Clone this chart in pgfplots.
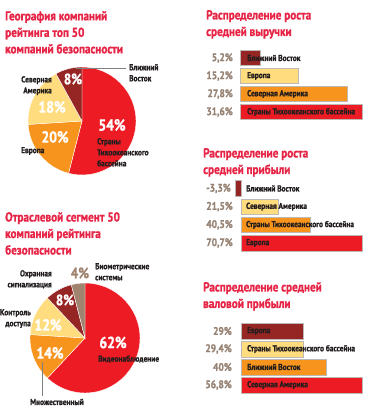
\documentclass[border=0pt]{standalone}
\usepackage{pgfplots}
\pgfplotsset{compat=1.18}
\usepackage{fontspec}
\setmainfont{PT Sans}[FakeStretch=0.86, BoldFont={PT Sans Bold}, BoldFeatures={FakeStretch=0.86, FakeBold=1.2}]
\definecolor{cRed}{RGB}{237,28,36}
\definecolor{cOrange}{RGB}{247,148,29}
\definecolor{cYellow}{RGB}{255,220,125}
\definecolor{cDark}{RGB}{150,38,36}
\definecolor{cTan}{RGB}{160,132,112}
\definecolor{cTitle}{RGB}{230,36,70}
\definecolor{cVal}{RGB}{150,130,115}
\definecolor{cTxt}{RGB}{35,30,30}
\definecolor{cEdge}{RGB}{190,185,180}
\tikzset{
  ttl/.style={anchor=north west, inner sep=0pt, align=left, text=cTitle, font=\bfseries\fontsize{13}{16.5}\selectfont},
  lab/.style={inner sep=0pt, text=cTxt, font=\bfseries\fontsize{8.6}{11}\selectfont},
  val/.style={inner sep=0pt, text=cVal, font=\bfseries\fontsize{11}{12}\selectfont, anchor=east},
  pct/.style={inner sep=0pt, text=white, font=\bfseries\fontsize{16}{16}\selectfont},
}
\pgfplotsset{
  hbar/.style={xbar, bar shift=0pt, draw=cEdge, line width=0.5pt},
  barax/.style={anchor=south west, scale only axis, hide axis, clip=false, ymin=-0.5, ymax=3.5},
  pieax/.style={anchor=center, scale only axis, hide axis, clip=false, xmin=-1, xmax=1, ymin=-1, ymax=1},
}
\begin{document}
\begin{tikzpicture}
\path[use as bounding box] (0pt,0pt) rectangle (374pt,-420pt);

% ---------- Pie 1 ----------
\node[ttl] at (5pt,-11pt) {География компаний\\рейтинга топ 50\\компаний безопасности};
\begin{axis}[pieax, at={(82pt,-121pt)}, width=108pt, height=108pt]
\fill[cRed, draw=white, line width=0.4pt] (axis cs:0,0) -- ++(90:54pt) arc[start angle=90, end angle={90-3.6*54}, radius=54pt] -- cycle;
\fill[cOrange, draw=white, line width=0.4pt] (axis cs:0,0) -- ++({90-3.6*54}:54pt) arc[start angle={90-3.6*54}, end angle={90-3.6*(54+20)}, radius=54pt] -- cycle;
\fill[cYellow, draw=white, line width=0.4pt] (axis cs:0,0) -- ++({90-3.6*74}:54pt) arc[start angle={90-3.6*74}, end angle={90-3.6*(74+18)}, radius=54pt] -- cycle;
\fill[cDark, draw=white, line width=0.4pt] (axis cs:0,0) -- ++({90-3.6*92}:54pt) arc[start angle={90-3.6*92}, end angle={90-3.6*(92+8)}, radius=54pt] -- cycle;
\end{axis}
\draw[gray, line width=0.6pt] (76pt,-68pt) -- (126pt,-68pt);
\node[lab, anchor=north west, align=left] at (129pt,-64pt) {Ближний\\Восток};
\node[lab, anchor=north east, align=right] at (52pt,-76pt) {Северная\\Америка};
\node[lab, anchor=west] at (21pt,-151pt) {Европа};
\node[lab, anchor=north west, align=left] at (97pt,-138pt) {Страны\\Тихоокеанского\\бассейна};
\node[pct, font=\bfseries\fontsize{15}{15}\selectfont] at (73pt,-79pt) {8\%};
\node[pct] at (52pt,-107pt) {18\%};
\node[pct] at (55pt,-137pt) {20\%};
\node[pct] at (112pt,-125pt) {54\%};

% ---------- Pie 2 ----------
\node[ttl] at (5pt,-212pt) {Отраслевой сегмент 50\\компаний рейтинга\\безопасности};
\begin{axis}[pieax, at={(85pt,-338pt)}, width=110pt, height=110pt]
\fill[cRed, draw=white, line width=0.4pt] (axis cs:0,0) -- ++(90:55pt) arc[start angle=90, end angle={90-3.6*62}, radius=55pt] -- cycle;
\fill[cOrange, draw=white, line width=0.4pt] (axis cs:0,0) -- ++({90-3.6*62}:55pt) arc[start angle={90-3.6*62}, end angle={90-3.6*(62+14)}, radius=55pt] -- cycle;
\fill[cYellow, draw=white, line width=0.4pt] (axis cs:0,0) -- ++({90-3.6*76}:55pt) arc[start angle={90-3.6*76}, end angle={90-3.6*(76+12)}, radius=55pt] -- cycle;
\fill[cDark, draw=white, line width=0.4pt] (axis cs:0,0) -- ++({90-3.6*88}:55pt) arc[start angle={90-3.6*88}, end angle={90-3.6*(88+8)}, radius=55pt] -- cycle;
\fill[cTan, draw=white, line width=0.4pt] (axis cs:0,0) -- ++({90-3.6*96}:55pt) arc[start angle={90-3.6*96}, end angle={90-3.6*(96+4)}, radius=55pt] -- cycle;
\end{axis}
\node[pct, text=cTan, font=\bfseries\fontsize{15}{15}\selectfont] at (80pt,-273pt) {4\%};
\node[lab, anchor=north west, align=left] at (95pt,-263pt) {Биометрические\\системы};
\node[lab, anchor=north east, align=right] at (52pt,-270pt) {Охранная\\сигнализация};
\node[lab, anchor=north east, align=right] at (31pt,-309pt) {Контроль\\доступа};
\node[pct, font=\bfseries\fontsize{15}{15}\selectfont] at (65pt,-300pt) {8\%};
\node[pct] at (48pt,-325pt) {12\%};
\node[pct] at (50pt,-353pt) {14\%};
\node[pct] at (113pt,-342.5pt) {62\%};
\node[lab, anchor=west] at (98pt,-359pt) {Видеонаблюдение};
\draw[gray, line width=0.6pt] (42pt,-362pt) -- (42pt,-396pt);
\node[lab, anchor=west] at (30pt,-402pt) {Множественный};

% ---------- Bar chart A ----------
\node[ttl] at (206pt,-10pt) {Распределение роста\\средней выручки};
\begin{axis}[barax, at={(240pt,-121pt)}, width=122pt, height=72pt, xmin=0, xmax=31.6]
\addplot[hbar, bar width=15pt, fill=cDark] coordinates {(5.2,3)};
\addplot[hbar, bar width=15pt, fill=cYellow] coordinates {(15.2,2)};
\addplot[hbar, bar width=15pt, fill=cOrange] coordinates {(27.8,1)};
\addplot[hbar, bar width=15pt, fill=cRed] coordinates {(31.6,0)};
\node[val, xshift=-7pt] at (axis cs:0,3) {5,2\%};
\node[val, xshift=-7pt] at (axis cs:0,2) {15,2\%};
\node[val, xshift=-7pt] at (axis cs:0,1) {27,8\%};
\node[val, xshift=-7pt] at (axis cs:0,0) {31,6\%};
\node[lab, anchor=west, xshift=7pt] at (axis cs:0,3) {Ближний Восток};
\node[lab, anchor=west, xshift=7pt] at (axis cs:0,2) {Европа};
\node[lab, anchor=west, xshift=7pt] at (axis cs:0,1) {Северная Америка};
\node[lab, anchor=west, xshift=7pt] at (axis cs:0,0) {Страны Тихоокеанского бассейна};
\end{axis}

% ---------- Bar chart B ----------
\node[ttl] at (203pt,-148pt) {Распределение роста\\средней прибыли};
\begin{axis}[barax, at={(232.4pt,-252.1pt)}, width=129.6pt, height=72.7pt, xmin=-5, xmax=70.7]
\addplot[hbar, bar width=15.5pt, fill=cDark] coordinates {(-3.3,3)};
\addplot[hbar, bar width=15.5pt, fill=cYellow] coordinates {(21.5,2)};
\addplot[hbar, bar width=15.5pt, fill=cOrange] coordinates {(40.5,1)};
\addplot[hbar, bar width=15.5pt, fill=cRed] coordinates {(70.7,0)};
\node[val, xshift=-10pt] at (axis cs:0,3) {-3,3\%};
\node[val, xshift=-8pt] at (axis cs:0,2) {21,5\%};
\node[val, xshift=-8pt] at (axis cs:0,1) {40,5\%};
\node[val, xshift=-8pt] at (axis cs:0,0) {70,7\%};
\node[lab, anchor=west, xshift=5pt] at (axis cs:0,3) {Ближний Восток};
\node[lab, anchor=west, xshift=5pt] at (axis cs:0,2) {Северная Америка};
\node[lab, anchor=west, xshift=5pt] at (axis cs:0,1) {Страны Тихоокеанского бассейна};
\node[lab, anchor=west, xshift=5pt] at (axis cs:0,0) {Европа};
\end{axis}

% ---------- Bar chart C ----------
\node[ttl] at (203pt,-282pt) {Распределение средней\\валовой прибыли};
\begin{axis}[barax, at={(241pt,-394pt)}, width=121pt, height=72pt, xmin=0, xmax=56.8]
\addplot[hbar, bar width=16pt, fill=cDark] coordinates {(29,3)};
\addplot[hbar, bar width=16pt, fill=cYellow] coordinates {(29.4,2)};
\addplot[hbar, bar width=16pt, fill=cOrange] coordinates {(40,1)};
\addplot[hbar, bar width=16pt, fill=cRed] coordinates {(56.8,0)};
\node[val, xshift=-9pt] at (axis cs:0,3) {29\%};
\node[val, xshift=-9pt] at (axis cs:0,2) {29,4\%};
\node[val, xshift=-9pt] at (axis cs:0,1) {40\%};
\node[val, xshift=-9pt] at (axis cs:0,0) {56,8\%};
\node[lab, anchor=west, xshift=6pt] at (axis cs:0,3) {Европа};
\node[lab, anchor=west, xshift=6pt] at (axis cs:0,2) {Страны Тихоокеанского бассейна};
\node[lab, anchor=west, xshift=6pt] at (axis cs:0,1) {Ближний Восток};
\node[lab, anchor=west, xshift=6pt] at (axis cs:0,0) {Северная Америка};
\end{axis}
\end{tikzpicture}
\end{document}
